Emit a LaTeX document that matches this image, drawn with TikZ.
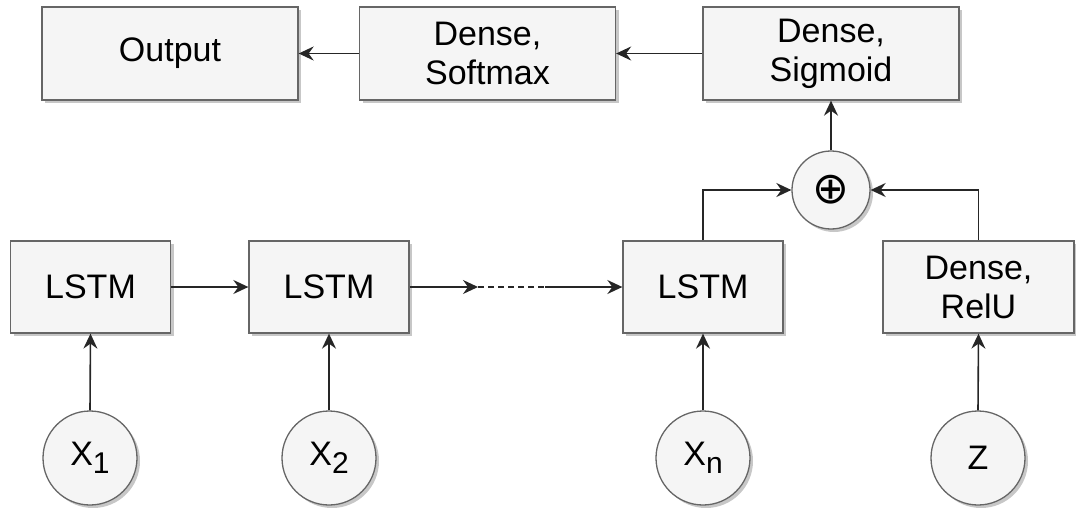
\documentclass[tikz,border=0pt]{standalone}
\usepackage{fontspec}
\setmainfont{Liberation Sans}
\newfontfamily\symfont{DejaVu Sans}
\usetikzlibrary{arrows.meta,shadows,positioning}
\definecolor{boxfill}{HTML}{F5F5F5}
\definecolor{boxline}{HTML}{666666}
\begin{document}
\begin{tikzpicture}[x=1pt,y=1pt,
  font=\fontsize{34}{39}\selectfont,
  boxshadow/.style={drop shadow={shadow xshift=3pt,shadow yshift=-3pt,fill=black,opacity=0.22}},
  blk/.style={draw=boxline,fill=boxfill,line width=1.3pt,minimum width=256pt,minimum height=93pt,align=center,inner sep=0pt,boxshadow},
  lstm/.style={blk,minimum width=160pt,minimum height=92pt},
  inp/.style={circle,draw=boxline,fill=boxfill,line width=1.3pt,minimum size=94pt,inner sep=0pt,boxshadow},
  sumnode/.style={circle,draw=boxline,fill=boxfill,line width=1.3pt,minimum size=78pt,inner sep=0pt,boxshadow},
  conn/.style={draw=black!85,line width=1.6pt,-{Stealth[length=15pt,width=14pt,inset=5pt]}},
  plain/.style={draw=black!85,line width=1.6pt}]
\useasboundingbox (0,0) rectangle (1076,-508);
\newcommand{\subx}[1]{X\raisebox{-8pt}{\fontsize{30}{30}\selectfont #1}}
% top row
\node[blk] (out) at (170,-53.5) {Output};
\node[blk] (soft) at (487.5,-53.5) {Dense,\\Softmax};
\node[blk] (sig) at (831,-53.5) {Dense,\\Sigmoid};
% sum
\node[sumnode] (sum) at (831,-190) {\symfont\fontsize{44}{44}\selectfont ⊕};
% lstm row
\node[lstm] (l1) at (90.5,-287) {LSTM};
\node[lstm] (l2) at (329,-287) {LSTM};
\node[lstm] (l3) at (703,-287) {LSTM};
\node[lstm,minimum width=191pt] (relu) at (978.5,-287) {Dense,\\RelU};
% inputs
\node[inp] (x1) at (90,-458) {\subx{1}};
\node[inp] (x2) at (329,-458) {\subx{2}};
\node[inp] (xn) at (703,-458) {\subx{n}};
\node[inp] (z) at (978,-458) {Z};
% dotted chain points
\coordinate (d1) at (478,-287);
\coordinate (d2) at (545,-287);
% connectors
\draw[conn] (sig.west) -- (soft.east);
\draw[conn] (soft.west) -- (out.east);
\draw[conn] (sum.north) -- (sig.south);
\draw[conn] (l3.north) |- (sum.west);
\draw[conn] (relu.north) |- (sum.east);
\draw[conn] (l1.east) -- (l2.west);
\draw[conn] (l2.east) -- (d1);
\draw[plain,dash pattern=on 6pt off 4pt] (d1) -- (d2);
\draw[conn] (d2) -- (l3.west);
\draw[conn] (x1.north) -- (l1.south);
\draw[conn] (x2.north) -- (l2.south);
\draw[conn] (xn.north) -- (l3.south);
\draw[conn] (z.north) -- (relu.south);
\end{tikzpicture}
\end{document}
